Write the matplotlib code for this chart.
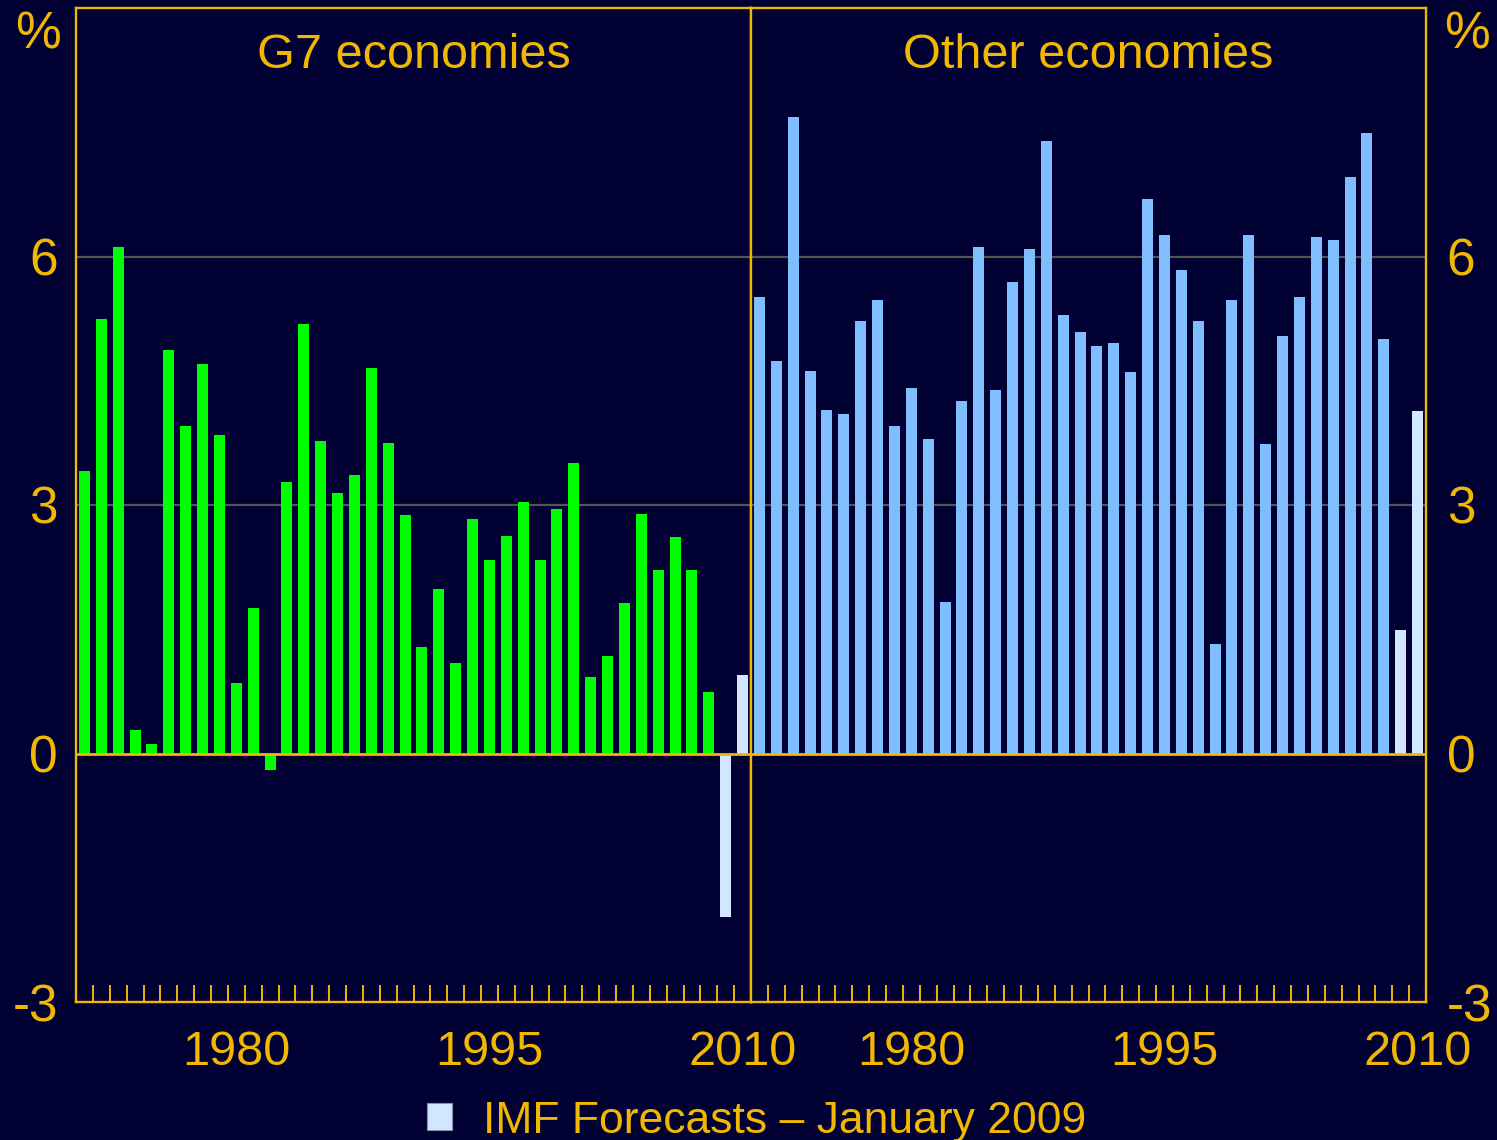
import numpy as np
import matplotlib.pyplot as plt
from matplotlib.patches import Patch

plt.rcParams['font.family'] = ['Liberation Sans', 'DejaVu Sans']

# annual GDP growth, %, 1971-2010 (2009-2010 are IMF forecasts)
years = list(range(1971, 2011))
g7_growth = [3.41, 5.24, 6.11, 0.28, 0.11, 4.87, 3.95, 4.70, 3.85, 0.85,
             1.76, -0.20, 3.28, 5.18, 3.77, 3.15, 3.36, 4.65, 3.75, 2.88,
             1.29, 1.98, 1.09, 2.83, 2.34, 2.62, 3.04, 2.33, 2.95, 3.51,
             0.92, 1.18, 1.82, 2.89, 2.22, 2.61, 2.21, 0.74, -1.97, 0.95]
other_growth = [5.51, 4.74, 7.68, 4.62, 4.15, 4.10, 5.22, 5.48, 3.95, 4.41,
                3.80, 1.83, 4.25, 6.12, 4.39, 5.69, 6.09, 7.39, 5.29, 5.09,
                4.92, 4.95, 4.60, 6.69, 6.26, 5.84, 5.22, 1.32, 5.47, 6.26,
                3.74, 5.04, 5.51, 6.23, 6.20, 6.96, 7.49, 5.00, 1.49, 4.13]
forecast_years = [2009, 2010]
labelled_years = [1980, 1995, 2010]
y_ticks = [-3, 0, 3, 6]

bg = '#000033'
gold = '#f2b700'
green = '#00ff00'
blue = '#80bfff'
fc_col = '#d2e7ff'

W, H = 1497, 1140
fig = plt.figure(figsize=(W / 100, H / 100), dpi=100, facecolor=bg)

panels = [
    ('G7 economies', g7_growth, green, 76, 'left'),
    ('Other economies', other_growth, blue, 751, 'right'),
]

x = np.arange(len(years))
for title, vals, col, x0, side in panels:
    ax = fig.add_axes([x0 / W, 1 - 1002 / H, 675 / W, 994 / H])
    ax.set_facecolor(bg)
    colors = [fc_col if y in forecast_years else col for y in years]
    ax.bar(x, vals, width=0.65, color=colors, zorder=2)
    for g in (3, 6):
        ax.axhline(g, color='#555555', lw=1.6, zorder=1)
    ax.axhline(0, color=gold, lw=2.0, zorder=3)

    ax.set_xlim(-0.5, len(years) - 0.5)
    ax.set_ylim(-3, 9)

    ax.set_xticks([years.index(y) for y in labelled_years])
    ax.set_xticklabels([str(y) for y in labelled_years])
    ax.set_xticks(np.arange(0.5, len(years) - 1, 1), minor=True)
    ax.tick_params(axis='x', which='major', length=0, pad=20,
                   labelsize=35, labelcolor=gold)
    ax.tick_params(axis='x', which='minor', direction='in', length=12,
                   width=1.4, color=gold)

    ax.set_yticks(y_ticks)
    ax.set_yticklabels([str(v) for v in y_ticks])
    if side == 'left':
        ax.tick_params(axis='y', length=0, pad=13, labelsize=37,
                       labelcolor=gold, left=False, labelleft=True)
        ax.text(-0.056, 0.973, '%', transform=ax.transAxes, ha='center',
                va='center', fontsize=37, color=gold)
    else:
        ax.tick_params(axis='y', length=0, pad=15, labelsize=37,
                       labelcolor=gold, left=False, labelleft=False,
                       right=False, labelright=True)
        ax.text(1.061, 0.973, '%', transform=ax.transAxes, ha='center',
                va='center', fontsize=37, color=gold)

    for s in ax.spines.values():
        s.set_color(gold)
        s.set_linewidth(1.7)

    ax.text(0.5, (1002 - 68) / 994, title, transform=ax.transAxes,
            ha='center', va='baseline', fontsize=35, color=gold)

handle = Patch(facecolor=fc_col, edgecolor='#8090b0', linewidth=0.8)
fig.legend([handle], ['IMF Forecasts \u2013 January 2009'],
           loc='center', bbox_to_anchor=(757 / W, 1 - 1121 / H),
           frameon=False, fontsize=32, labelcolor=gold,
           handlelength=0.56, handleheight=0.56, handletextpad=0.7,
           borderpad=0, borderaxespad=0)

fig.savefig('out.png', dpi=100, facecolor=bg)
